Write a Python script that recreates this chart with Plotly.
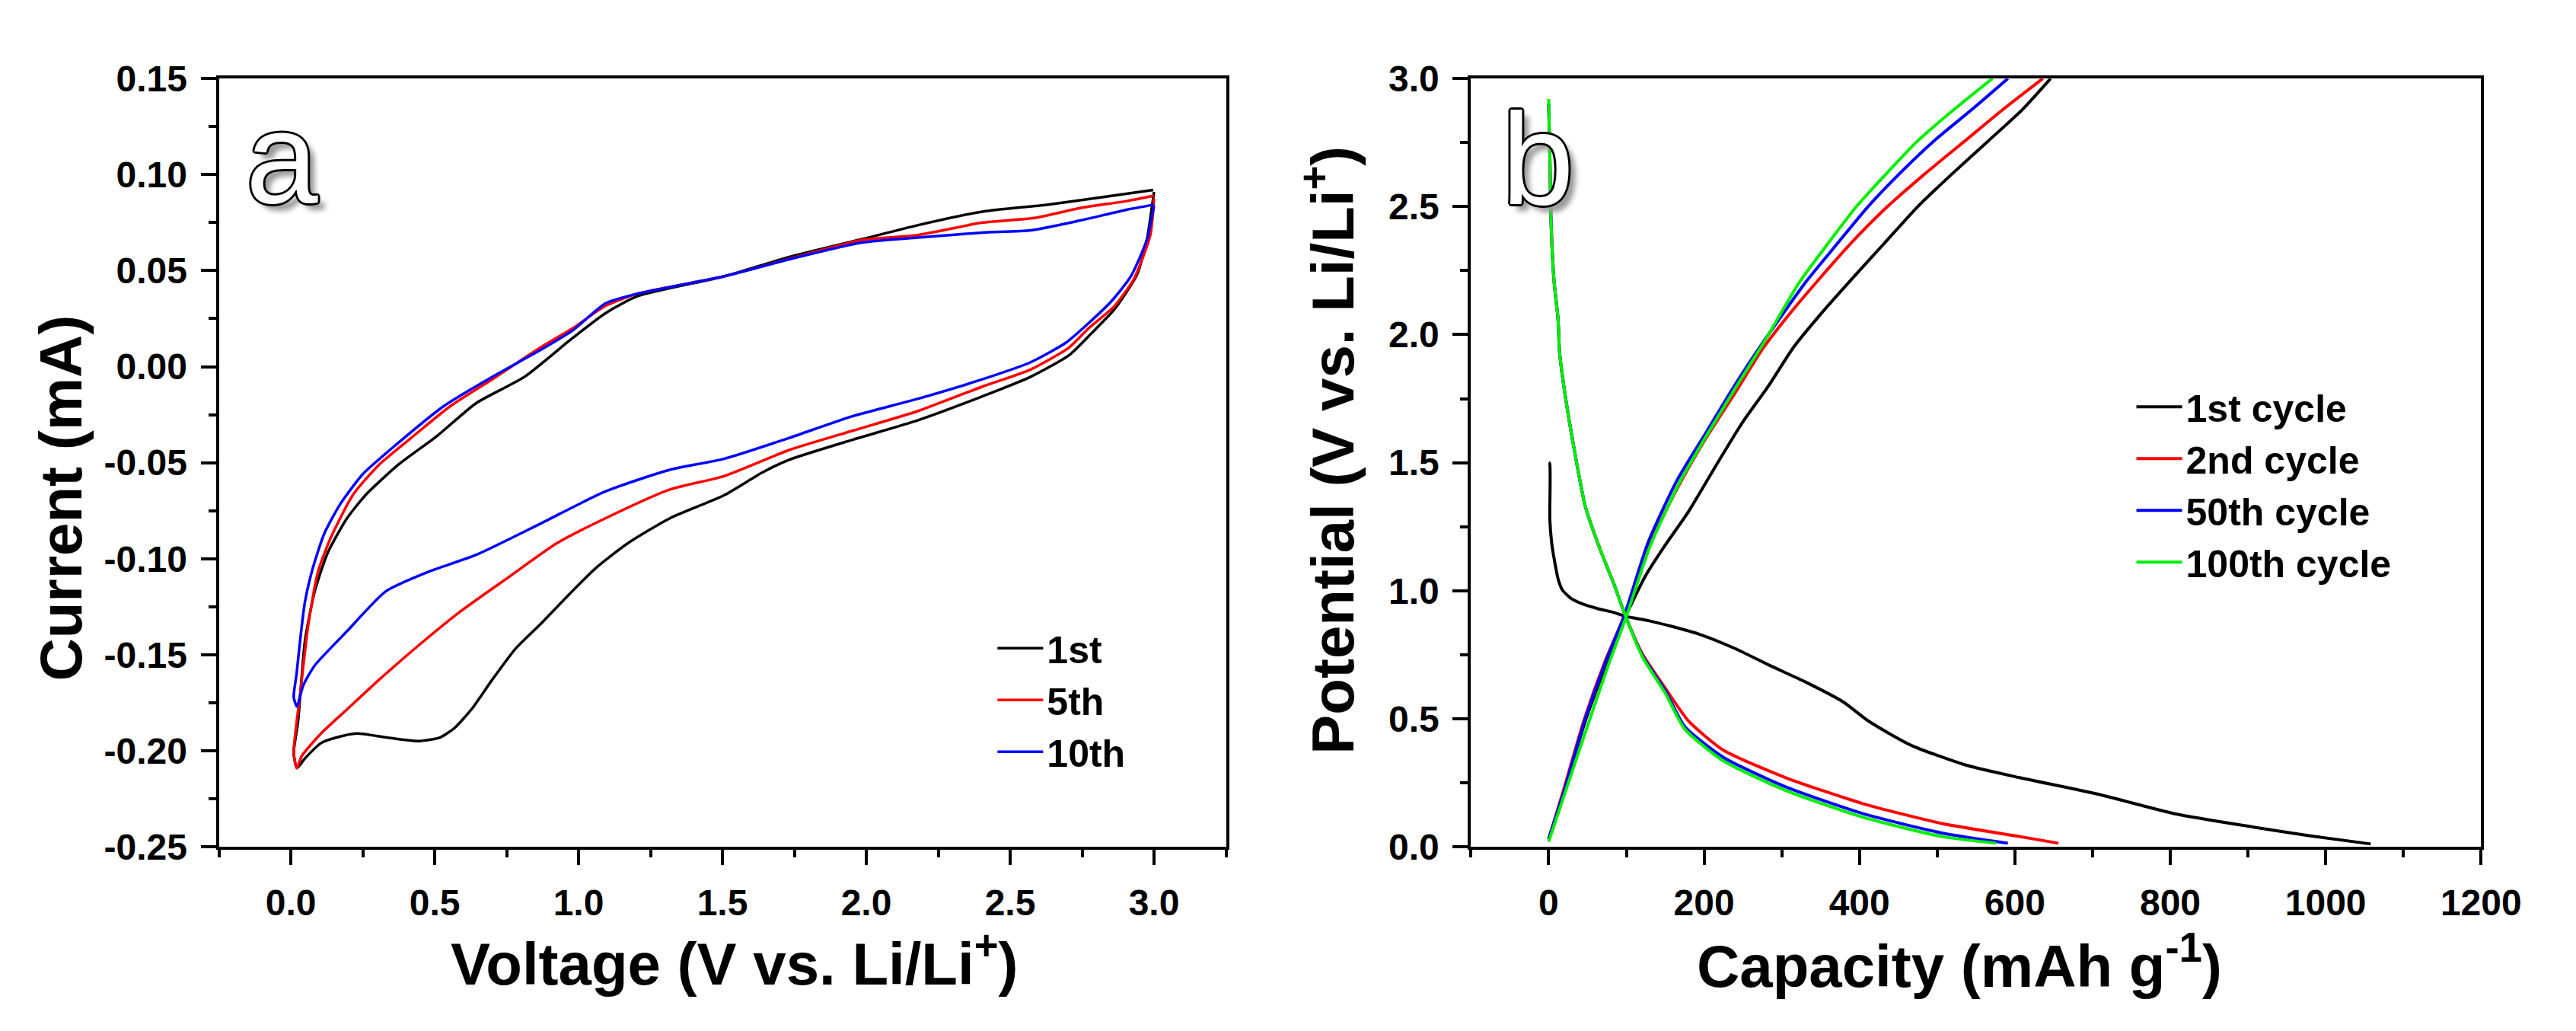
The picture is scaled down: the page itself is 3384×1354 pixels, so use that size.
import plotly.graph_objects as go

# ---------------- Panel a : cyclic voltammetry ----------------
cv_names = ["1st", "5th", "10th"]
cv_colors = ["#000000", "#ff0000", "#0000ff"]

cv1_v = [3.0, 2.975, 2.941, 2.863, 2.784, 2.705, 2.571, 2.403, 2.178, 1.954, 1.730, 1.64, 1.505, 1.317,
         1.171, 1.059, 0.958, 0.868, 0.78, 0.70, 0.63, 0.57, 0.52, 0.442, 0.33, 0.229, 0.161, 0.105, 0.049,
         0.021, 0.01,
         0.025, 0.049, 0.083, 0.128, 0.195, 0.262, 0.374, 0.509, 0.644, 0.812, 0.98, 1.093, 1.205, 1.505,
         1.73, 1.988, 2.178, 2.403, 2.627, 2.852, 2.997]
cv1_i = [0.091, 0.066, 0.048, 0.030, 0.0176, 0.006, -0.0053, -0.0155, -0.028, -0.038, -0.0486, -0.055,
         -0.067, -0.079, -0.092, -0.105, -0.12, -0.134, -0.147, -0.163, -0.178, -0.188, -0.193, -0.195,
         -0.193, -0.191, -0.193, -0.196, -0.204, -0.209, -0.201,
         -0.185, -0.143, -0.117, -0.097, -0.079, -0.0665, -0.051, -0.036, -0.019, -0.0053, 0.015, 0.0278,
         0.0367, 0.047, 0.057, 0.0665, 0.0736, 0.0807, 0.0843, 0.0889, 0.092]

cv5_v = [3.0, 2.987, 2.93, 2.863, 2.773, 2.705, 2.571, 2.403, 2.178, 1.954, 1.73, 1.505, 1.317, 1.093,
         0.924, 0.756, 0.588, 0.442, 0.307, 0.195, 0.105, 0.038, 0.021, 0.01,
         0.032, 0.06, 0.094, 0.139, 0.217, 0.307, 0.419, 0.554, 0.70, 0.868, 0.98, 1.093, 1.205, 1.505,
         1.73, 1.988, 2.178, 2.403, 2.584, 2.74, 2.908, 3.0]
cv5_i = [0.0876, 0.0685, 0.0456, 0.0316, 0.020, 0.010, -0.0015, -0.0104, -0.0232, -0.0333, -0.0435,
         -0.057, -0.064, -0.079, -0.092, -0.1097, -0.1276, -0.1454, -0.163, -0.1785, -0.191, -0.2027,
         -0.209, -0.201,
         -0.171, -0.135, -0.107, -0.089, -0.0665, -0.051, -0.037, -0.0206, -0.0066, 0.010, 0.020, 0.0316,
         0.038, 0.047, 0.056, 0.066, 0.0685, 0.075, 0.0774, 0.0825, 0.0863, 0.089]

cv10_v = [3.0, 2.975, 2.919, 2.852, 2.773, 2.694, 2.571, 2.403, 2.178, 1.954, 1.73, 1.505, 1.317, 1.093,
          0.868, 0.644, 0.475, 0.33, 0.195, 0.083, 0.043, 0.021, 0.01,
          0.02, 0.032, 0.049, 0.077, 0.116, 0.172, 0.25, 0.363, 0.531, 0.70, 0.868, 0.98, 1.093, 1.205,
          1.505, 1.73, 1.988, 2.178, 2.403, 2.571, 2.74, 2.908, 3.0]
cv10_i = [0.0838, 0.066, 0.0469, 0.0341, 0.0227, 0.0125, 0.0023, -0.0066, -0.0168, -0.0257, -0.0372,
          -0.048, -0.0537, -0.065, -0.0817, -0.098, -0.107, -0.117, -0.1378, -0.1556, -0.166, -0.177,
          -0.172,
          -0.16, -0.143, -0.1225, -0.1046, -0.087, -0.0715, -0.056, -0.041, -0.0206, -0.0053, 0.0087,
          0.0189, 0.0329, 0.038, 0.047, 0.0558, 0.0647, 0.0672, 0.0698, 0.071, 0.076, 0.0818, 0.0843]

a_xticks = [0.0, 0.5, 1.0, 1.5, 2.0, 2.5, 3.0]
a_xticklabels = ["0.0", "0.5", "1.0", "1.5", "2.0", "2.5", "3.0"]
a_yticks = [-0.25, -0.20, -0.15, -0.10, -0.05, 0.00, 0.05, 0.10, 0.15]
a_yticklabels = ["-0.25", "-0.20", "-0.15", "-0.10", "-0.05", "0.00", "0.05", "0.10", "0.15"]

# ---------------- Panel b : charge / discharge ----------------
gc_names = ["1st cycle", "2nd cycle", "50th cycle", "100th cycle"]
gc_colors = ["#000000", "#ff0000", "#0000ff", "#00ee00"]

dis1_c = [0, 1.3, 1.5, 4, 7.5, 12, 17.6, 28.7, 43, 62, 84, 99, 128.5, 158, 195, 240, 284, 331, 379, 412,
          466, 536, 606, 706, 806, 907, 977, 1058]
dis1_p = [1.5, 1.497, 1.277, 1.183, 1.117, 1.047, 1.003, 0.970, 0.949, 0.931, 0.915, 0.90, 0.883, 0.861,
          0.829, 0.774, 0.709, 0.643, 0.566, 0.49, 0.397, 0.32, 0.27, 0.206, 0.129, 0.077, 0.044, 0.011]
chg1_c = [0, 20, 47, 75, 99, 124.6, 150, 180, 216.6, 250, 283, 315, 350, 388, 430, 475, 520, 566, 610, 646]
chg1_p = [0.03, 0.22, 0.49, 0.72, 0.90, 1.058, 1.178, 1.309, 1.495, 1.66, 1.80, 1.95, 2.08, 2.21, 2.35,
          2.5, 2.63, 2.757, 2.88, 3.0]

dis2_c = [0, 1.5, 3, 7, 12, 14, 21, 33, 47, 65.5, 84, 99, 121, 150, 180, 225, 305, 405, 506, 606, 656]
dis2_p = [2.9, 2.7, 2.444, 2.206, 2.063, 1.932, 1.768, 1.55, 1.331, 1.167, 1.026, 0.90, 0.751, 0.62, 0.491,
          0.377, 0.27, 0.168, 0.091, 0.04, 0.014]
chg2_c = [0, 20, 45, 72, 97, 128, 165, 202, 239, 275, 312.5, 349, 390, 436, 485, 536, 585, 636]
chg2_p = [0.03, 0.23, 0.49, 0.72, 0.90, 1.167, 1.397, 1.594, 1.768, 1.943, 2.09, 2.22, 2.36, 2.5, 2.63,
          2.757, 2.88, 3.0]

dis50_c = [0, 1.5, 3, 7, 12, 14, 21, 33, 47, 65.5, 84, 99, 121, 150, 175, 225, 305, 405, 506, 591]
dis50_p = [2.9, 2.7, 2.444, 2.206, 2.063, 1.932, 1.768, 1.55, 1.331, 1.167, 1.026, 0.90, 0.745, 0.61, 0.47,
           0.349, 0.234, 0.129, 0.054, 0.014]
chg50_c = [0, 20, 46, 73, 97, 128, 165, 202, 239, 275, 331, 370, 411, 452, 496, 545, 591]
chg50_p = [0.03, 0.22, 0.49, 0.72, 0.90, 1.189, 1.43, 1.615, 1.80, 1.966, 2.206, 2.35, 2.5, 2.63, 2.757,
           2.88, 3.0]

dis100_c = [0, 1.5, 3, 7, 12, 14, 21, 33, 47, 65.5, 84, 99, 121, 150, 175, 225, 305, 405, 506, 576]
dis100_p = [2.92, 2.7, 2.444, 2.206, 2.063, 1.932, 1.768, 1.55, 1.331, 1.167, 1.026, 0.90, 0.74, 0.60, 0.46,
            0.335, 0.22, 0.115, 0.04, 0.014]
chg100_c = [0, 22, 52, 78, 100, 130, 168, 204, 240, 275, 323, 358, 396, 435, 475, 522, 571]
chg100_p = [0.02, 0.22, 0.49, 0.72, 0.90, 1.17, 1.42, 1.61, 1.79, 1.96, 2.206, 2.35, 2.5, 2.63, 2.757,
            2.88, 3.0]

b_xticks = [0, 200, 400, 600, 800, 1000, 1200]
b_xticklabels = ["0", "200", "400", "600", "800", "1000", "1200"]
b_yticks = [0.0, 0.5, 1.0, 1.5, 2.0, 2.5, 3.0]
b_yticklabels = ["0.0", "0.5", "1.0", "1.5", "2.0", "2.5", "3.0"]

# ---------------- figure ----------------
W, H = 3384, 1354
FONT = "Liberation Sans, Arial, sans-serif"

fig = go.Figure()

cv_sets = [(cv1_v, cv1_i), (cv5_v, cv5_i), (cv10_v, cv10_i)]
for name, col, (v, i) in zip(cv_names, cv_colors, cv_sets):
    fig.add_trace(go.Scatter(x=v, y=i, mode="lines", name=name,
                             line=dict(color=col, width=3.5, shape="spline", smoothing=0.6),
                             xaxis="x", yaxis="y", legend="legend"))

gc_sets = [(dis1_c, dis1_p, chg1_c, chg1_p), (dis2_c, dis2_p, chg2_c, chg2_p),
           (dis50_c, dis50_p, chg50_c, chg50_p), (dis100_c, dis100_p, chg100_c, chg100_p)]
for name, col, (dc, dp, cc, cp) in zip(gc_names, gc_colors, gc_sets):
    fig.add_trace(go.Scatter(x=list(dc) + [None] + list(cc), y=list(dp) + [None] + list(cp),
                             mode="lines", name=name,
                             line=dict(color=col, width=4, shape="spline", smoothing=0.6),
                             xaxis="x2", yaxis="y2", legend="legend2", connectgaps=False))

tickfont = dict(family=FONT, size=48, color="black", weight="bold")
common = dict(showgrid=False, zeroline=False, showline=True, linecolor="black", linewidth=4,
              mirror=True, ticks="outside", ticklen=20, tickwidth=4, tickcolor="black",
              tickfont=tickfont, ticklabelstandoff=8)

yb = [1 - 1122 / H, 1 - 72 / H]
fig.update_layout(
    width=W, height=H, autosize=False,
    margin=dict(l=0, r=0, t=0, b=0),
    paper_bgcolor="white", plot_bgcolor="white",
    xaxis=dict(domain=[284 / W, 1628 / W], range=[-0.25, 3.25], tickvals=a_xticks, ticktext=a_xticklabels,
               minor=dict(dtick=0.25, tick0=0, ticks="outside", ticklen=10, tickwidth=4, tickcolor="black"),
               anchor="y", **common),
    yaxis=dict(domain=yb, range=[-0.25, 0.15], tickvals=a_yticks, ticktext=a_yticklabels,
               minor=dict(dtick=0.025, tick0=0, ticks="outside", ticklen=10, tickwidth=4, tickcolor="black"),
               anchor="x", **common),
    xaxis2=dict(domain=[1955 / W, 3303 / W], range=[-100, 1200], tickvals=b_xticks, ticktext=b_xticklabels,
                minor=dict(dtick=100, tick0=0, ticks="outside", ticklen=10, tickwidth=4, tickcolor="black"),
                anchor="y2", **common),
    yaxis2=dict(domain=yb, range=[0, 3], tickvals=b_yticks, ticktext=b_yticklabels,
                minor=dict(dtick=0.25, tick0=0, ticks="outside", ticklen=10, tickwidth=4, tickcolor="black"),
                anchor="x2", **common),
    legend=dict(x=1318 / W, y=1 - 810 / H, xanchor="left", yanchor="top", bgcolor="rgba(0,0,0,0)",
                font=dict(family=FONT, size=50, color="black", weight="bold"), itemwidth=60,
                tracegroupgap=0),
    legend2=dict(x=2838 / W, y=1 - 480 / H, xanchor="left", yanchor="top", bgcolor="rgba(0,0,0,0)",
                 font=dict(family=FONT, size=50, color="black", weight="bold"), itemwidth=60,
                 tracegroupgap=0),
)

title_font = dict(family=FONT, size=78, color="black", weight="bold")
outline = ("3px 0 0 #000, -3px 0 0 #000, 0 3px 0 #000, 0 -3px 0 #000, 2px 2px 0 #000, "
           "-2px -2px 0 #000, 2px -2px 0 #000, -2px 2px 0 #000, 9px 9px 7px #999")
letter_font = dict(family=FONT, size=170, color="white", shadow=outline)

fig.add_annotation(text="Voltage (V vs. Li/Li<sup>+</sup>)", xref="paper", yref="paper",
                   x=972 / W, y=1 - 1276 / H, xanchor="center", yanchor="middle", showarrow=False,
                   font=title_font)
fig.add_annotation(text="Capacity (mAh g<sup>-1</sup>)", xref="paper", yref="paper",
                   x=2607 / W, y=1 - 1280 / H, xanchor="center", yanchor="middle", showarrow=False,
                   font=title_font)
fig.add_annotation(text="Current (mA)", xref="paper", yref="paper", textangle=-90,
                   x=73 / W, y=1 - 645 / H, xanchor="center", yanchor="middle", showarrow=False,
                   font=title_font)
fig.add_annotation(text="Potential (V vs. Li/Li<sup>+</sup>)", xref="paper", yref="paper", textangle=-90,
                   x=1765 / W, y=1 - 580 / H, xanchor="center", yanchor="middle", showarrow=False,
                   font=title_font)
fig.add_annotation(text="a", xref="paper", yref="paper", x=368 / W, y=1 - 180 / H,
                   xanchor="center", yanchor="middle", showarrow=False, font=letter_font)
fig.add_annotation(text="b", xref="paper", yref="paper", x=2045 / W, y=1 - 182 / H,
                   xanchor="center", yanchor="middle", showarrow=False, font=letter_font)

fig.write_html("out.html")
